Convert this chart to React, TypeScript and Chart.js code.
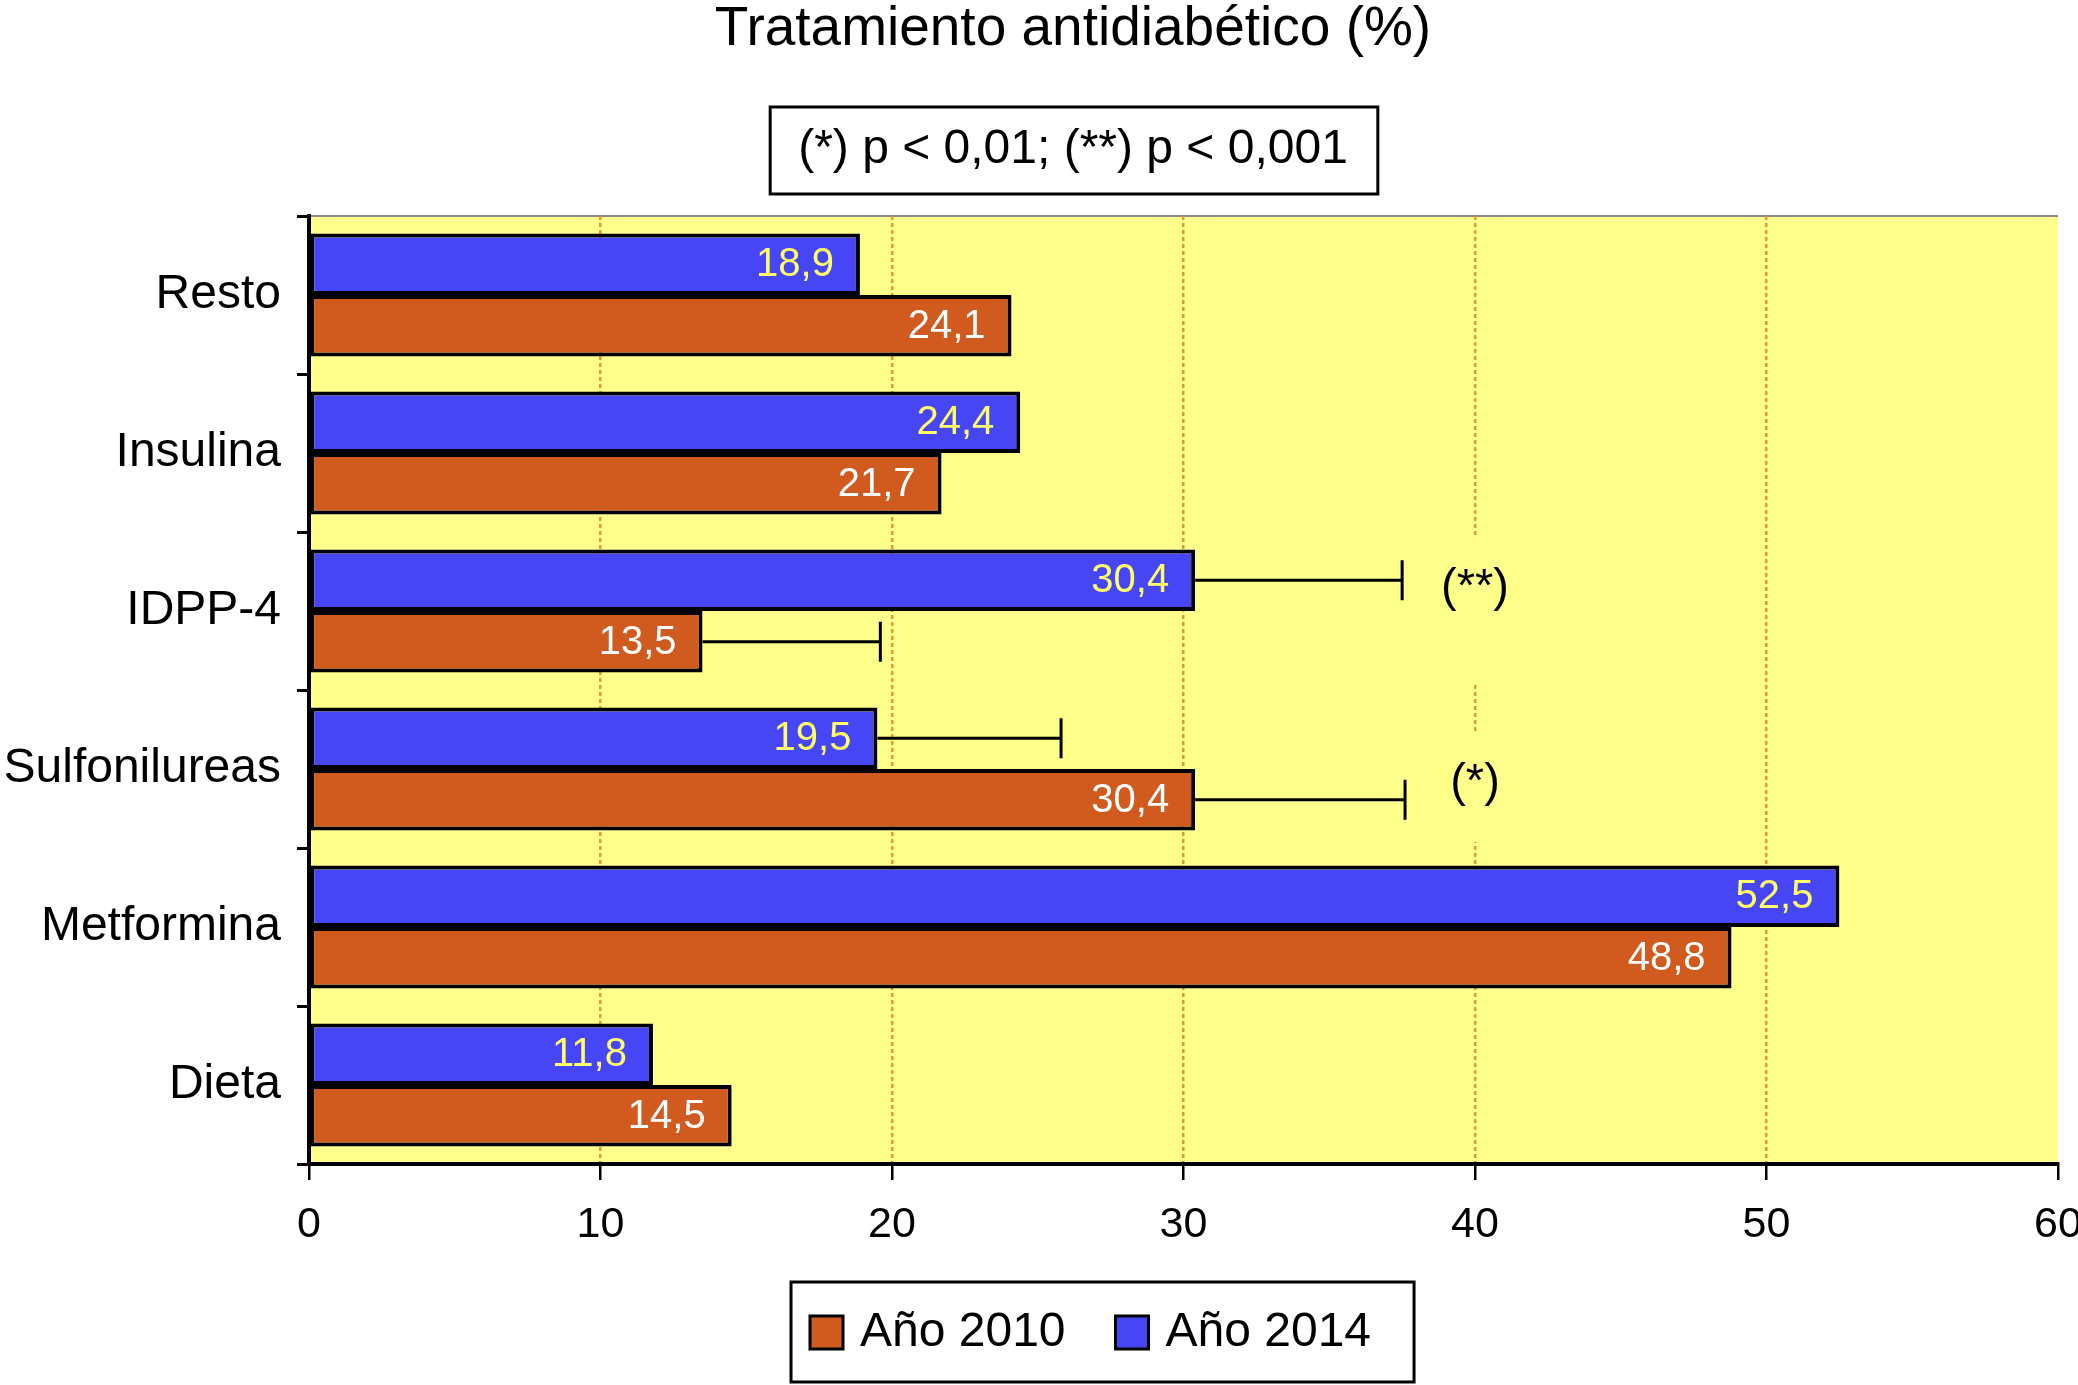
import React, { useEffect, useRef } from 'react';
import { Chart, registerables } from 'chart.js';

Chart.register(...registerables);

// ---- data ----
const categories = ['Resto', 'Insulina', 'IDPP-4', 'Sulfonilureas', 'Metformina', 'Dieta'];
const values2014 = [18.9, 24.4, 30.4, 19.5, 52.5, 11.8];
const values2010 = [24.1, 21.7, 13.5, 30.4, 48.8, 14.5];
const errHigh2014 = [null, null, 37.5, 25.8, null, null];
const errHigh2010 = [null, null, 19.6, 37.6, null, null];
const sig2014 = ['', '', '(**)', '', '', ''];
const sig2010 = ['', '', '', '(*)', '', ''];
const SIG_AT = 40;
const X_MIN = 0;
const X_MAX = 60;
const X_STEP = 10;
const TITLE = 'Tratamiento antidiabético (%)';
const SUBTITLE = '(*) p < 0,01; (**) p < 0,001';
const LABEL_2014 = 'Año 2014';
const LABEL_2010 = 'Año 2010';
const LEGEND_ORDER = [1, 0];

// ---- style ----
const FONT = '"Liberation Sans", Arial, Helvetica, sans-serif';
const BLUE = '#4646F6';
const ORANGE = '#D15A1F';
const YELLOW = '#FFFF8C';
const GRID = '#DC9A3C';

const fmt = (v: number) => v.toFixed(1).replace('.', ',');

const bgPlugin = {
  id: 'bg',
  afterLayout(chart: any) {
    const y = chart.scales.y;
    if (y) y.left = 0;
  },
  beforeDraw(chart: any) {
    const { ctx, chartArea: a, width, height } = chart;
    ctx.save();
    ctx.fillStyle = '#fff';
    ctx.fillRect(0, 0, width, height);
    ctx.fillStyle = YELLOW;
    ctx.fillRect(a.left, a.top, a.right - a.left, a.bottom - a.top);
    ctx.strokeStyle = '#8a8a8a';
    ctx.lineWidth = 2;
    ctx.beginPath();
    ctx.moveTo(a.left, a.top);
    ctx.lineTo(a.right, a.top);
    ctx.stroke();
    ctx.restore();
  },
  beforeDatasetsDraw(chart: any) {
    const { ctx } = chart;
    const x = chart.scales.x;
    const y = chart.scales.y;
    const half = (y.bottom - y.top) / categories.length / 2;
    ctx.save();
    ctx.font = `47px ${FONT}`;
    chart.data.datasets.forEach((ds: any, di: number) => {
      const meta = chart.getDatasetMeta(di);
      ds.sig.forEach((s: string, i: number) => {
        if (!s) return;
        const ty = meta.data[i].getProps(['y'], true).y + ds.sigDy;
        const catBottom = y.getPixelForValue(i) + half;
        const sx = x.getPixelForValue(SIG_AT);
        const w = ctx.measureText(s).width;
        ctx.fillStyle = YELLOW;
        ctx.fillRect(sx - w / 2 - 6, ty - 50, w + 12, catBottom - 6 - (ty - 50));
      });
    });
    ctx.restore();
  },
  afterDatasetsDraw(chart: any) {
    const { ctx } = chart;
    const x = chart.scales.x;
    ctx.save();
    chart.data.datasets.forEach((ds: any, di: number) => {
      const meta = chart.getDatasetMeta(di);
      meta.data.forEach((bar: any, i: number) => {
        const p = bar.getProps(['x', 'y'], true);
        const e = ds.errHigh[i];
        if (e != null) {
          const ex = x.getPixelForValue(e);
          ctx.strokeStyle = '#000';
          ctx.lineWidth = 3;
          ctx.beginPath();
          ctx.moveTo(p.x, p.y);
          ctx.lineTo(ex, p.y);
          ctx.moveTo(ex, p.y - 20);
          ctx.lineTo(ex, p.y + 20);
          ctx.stroke();
        }
        ctx.font = `40px ${FONT}`;
        ctx.fillStyle = ds.labelColor;
        ctx.textAlign = 'right';
        ctx.textBaseline = 'middle';
        ctx.fillText(fmt(ds.data[i]), p.x - 26, p.y + 1);
        const s = ds.sig[i];
        if (s) {
          const sx = x.getPixelForValue(SIG_AT);
          ctx.font = `47px ${FONT}`;
          ctx.fillStyle = '#000';
          ctx.textAlign = 'center';
          ctx.fillText(s, sx, p.y + ds.sigDy);
        }
      });
    });
    ctx.restore();
  },
  afterDraw(chart: any) {
    const { ctx } = chart;
    ctx.save();
    const sub = chart.boxes.find((b: any) => b.options && b.options.text === SUBTITLE);
    if (sub) {
      ctx.font = `48px ${FONT}`;
      const tw = ctx.measureText(SUBTITLE).width;
      const cx = (sub.left + sub.right) / 2;
      const cy = sub.top + 31 + 24;
      ctx.strokeStyle = '#000';
      ctx.lineWidth = 3;
      ctx.strokeRect(cx - tw / 2 - 28, cy - 43, tw + 58, 87);
    }
    const a = chart.chartArea;
    const boxTop = a.bottom + 118;
    const boxH = 100;
    const boxLeft = 791;
    const cy = boxTop + boxH / 2;
    let cur = boxLeft + 19;
    ctx.font = `48px ${FONT}`;
    ctx.textBaseline = 'middle';
    ctx.textAlign = 'left';
    LEGEND_ORDER.forEach((di, k) => {
      const ds = chart.data.datasets[di];
      if (k > 0) cur += 50;
      ctx.fillStyle = ds.backgroundColor;
      ctx.fillRect(cur, cy - 16, 33, 33);
      ctx.strokeStyle = '#000';
      ctx.lineWidth = 3;
      ctx.strokeRect(cur, cy - 16, 33, 33);
      cur += 33 + 17;
      ctx.fillStyle = '#000';
      ctx.fillText(ds.label, cur, cy + 1);
      cur += ctx.measureText(ds.label).width;
    });
    ctx.strokeStyle = '#000';
    ctx.lineWidth = 3;
    ctx.strokeRect(boxLeft, boxTop, cur + 43 - boxLeft, boxH);
    ctx.restore();
  },
};

export default function App() {
  const ref = useRef<HTMLCanvasElement>(null);
  useEffect(() => {
    const chart = new Chart(ref.current as HTMLCanvasElement, {
      type: 'bar',
      data: {
        labels: categories,
        datasets: [
          {
            label: LABEL_2014,
            data: values2014,
            backgroundColor: BLUE,
            borderColor: '#000',
            borderWidth: 4,
            borderSkipped: false,
            categoryPercentage: 0.78,
            barPercentage: 1,
            labelColor: '#FFFF66',
            errHigh: errHigh2014,
            sig: sig2014,
            sigDy: 8,
          } as any,
          {
            label: LABEL_2010,
            data: values2010,
            backgroundColor: ORANGE,
            borderColor: '#000',
            borderWidth: 4,
            borderSkipped: false,
            categoryPercentage: 0.78,
            barPercentage: 1,
            labelColor: '#FFFFFF',
            errHigh: errHigh2010,
            sig: sig2010,
            sigDy: -17,
          } as any,
        ],
      },
      options: {
        indexAxis: 'y',
        animation: false,
        responsive: true,
        maintainAspectRatio: false,
        devicePixelRatio: 1,
        layout: { padding: { left: 88, right: 20, top: 0, bottom: 121 } },
        plugins: {
          legend: { display: false },
          tooltip: { enabled: false },
          title: {
            display: true,
            text: TITLE,
            color: '#000',
            font: { family: FONT, size: 55, weight: 'normal', lineHeight: 1 },
            padding: { top: 2, bottom: 38 },
          },
          subtitle: {
            display: true,
            text: SUBTITLE,
            color: '#000',
            font: { family: FONT, size: 48, weight: 'normal', lineHeight: 1 },
            padding: { top: 31, bottom: 42 },
          },
        },
        scales: {
          x: {
            min: X_MIN,
            max: X_MAX,
            ticks: { stepSize: X_STEP, color: '#000', font: { family: FONT, size: 43 }, padding: 19 },
            grid: {
              color: (c: any) =>
                c.tick && (c.tick.value === X_MIN || c.tick.value === X_MAX) ? 'rgba(0,0,0,0)' : GRID,
              lineWidth: 2.5,
              tickColor: '#000',
              tickWidth: 2.5,
              tickLength: 16,
              tickBorderDash: [],
            },
            border: { display: true, color: '#000', width: 4, dash: [4, 3] },
            afterFit: (s: any) => {
              s.height = 100;
              s.paddingRight = 0;
            },
          },
          y: {
            ticks: { color: '#000', font: { family: FONT, size: 48 }, padding: 16 },
            grid: {
              drawOnChartArea: false,
              offset: true,
              tickLength: 12,
              tickColor: '#000',
              tickWidth: 3,
              color: '#000',
              lineWidth: 3,
            },
            border: { display: true, color: '#000', width: 4 },
            afterFit: (s: any) => {
              s.width = 221;
            },
          },
        },
      } as any,
      plugins: [bgPlugin],
    });
    return () => chart.destroy();
  }, []);
  return (
    <div style={{ position: 'fixed', left: 0, top: 0, width: '2078px', height: '1385px', background: '#fff' }}>
      <canvas ref={ref} />
    </div>
  );
}
